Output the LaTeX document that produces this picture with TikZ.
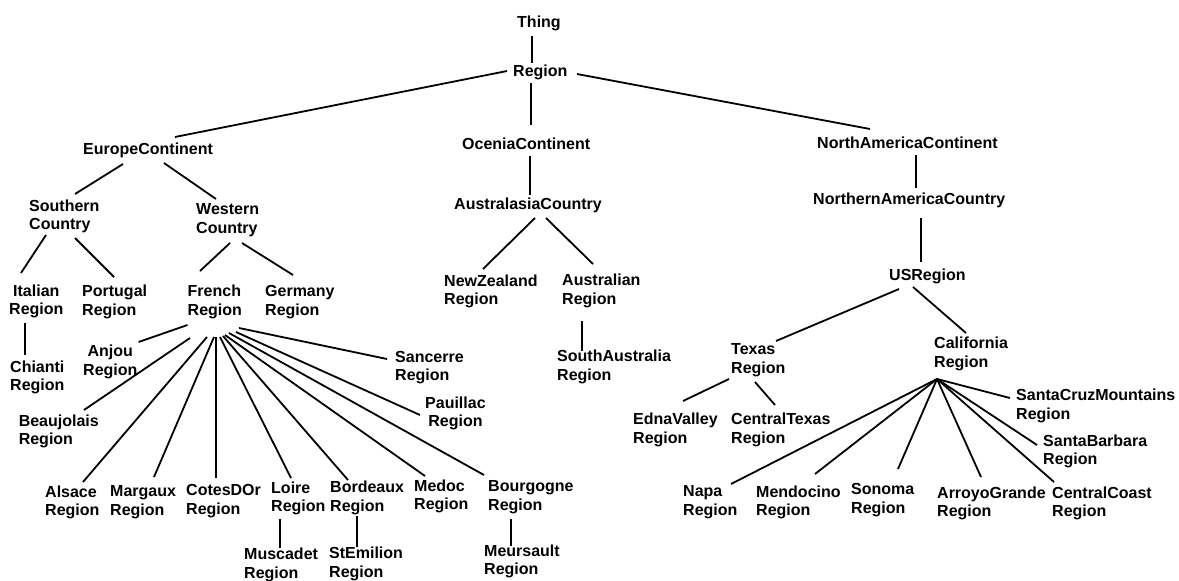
\documentclass[tikz,border=0pt]{standalone}
\usepackage{fontspec}
\setmainfont{Liberation Sans}
\begin{document}
\begin{tikzpicture}[x=1pt,y=-1pt,
  lbl/.style={font=\bfseries\fontsize{16}{18.7}\selectfont, inner sep=0pt, anchor=west, align=left},
  ctr/.style={lbl, align=center},
  edge/.style={line width=1.8pt, black}]
\useasboundingbox[fill=white] (0,0) rectangle (1179,581);
% nodes
\node[lbl] (thing) at (517,23) {Thing};
\node[lbl] (reg) at (513,72) {Region};
\node[lbl] (eur) at (83,150) {EuropeContinent};
\node[lbl] (oce) at (462,144) {OceniaContinent};
\node[lbl] (nac) at (817,143) {NorthAmericaContinent};
\node[lbl] (sou) at (29,216.5) {Southern\\Country};
\node[lbl] (wes) at (196,220) {Western\\Country};
\node[lbl] (aus) at (454,205) {AustralasiaCountry};
\node[lbl] (nam) at (813,200) {NorthernAmericaCountry};
\node[ctr] (ita) at (9,301.5) {Italian\\Region};
\node[lbl] (por) at (82,302) {Portugal\\Region};
\node[lbl] (fre) at (187.5,302) {French\\Region};
\node[lbl] (ger) at (265,302) {Germany\\Region};
\node[lbl] (nzr) at (444,291.5) {NewZealand\\Region};
\node[lbl] (aur) at (562,291) {Australian\\Region};
\node[lbl] (usr) at (889,276) {USRegion};
\node[ctr] (chi) at (10,377.5) {Chianti\\Region};
\node[ctr] (anj) at (83,362) {Anjou\\Region};
\node[lbl] (bea) at (18.6,431.5) {Beaujolais\\Region};
\node[lbl] (san) at (395,367.5) {Sancerre\\Region};
\node[ctr] (pau) at (425,413.5) {Pauillac\\Region};
\node[lbl] (sar) at (557,367) {SouthAustralia\\Region};
\node[lbl] (tex) at (731,360.5) {Texas\\Region};
\node[lbl] (cal) at (934,354) {California\\Region};
\node[lbl] (edn) at (633,430) {EdnaValley\\Region};
\node[lbl] (ctx) at (731,430) {CentralTexas\\Region};
\node[lbl] (scm) at (1016,406) {SantaCruzMountains\\Region};
\node[lbl] (sba) at (1043,451.5) {SantaBarbara\\Region};
\node[lbl] (als) at (45,502.5) {Alsace\\Region};
\node[lbl] (mar) at (110,502.5) {Margaux\\Region};
\node[lbl] (cdo) at (186,501) {CotesDOr\\Region};
\node[lbl] (loi) at (271,498.5) {Loire\\Region};
\node[lbl] (bor) at (330,498) {Bordeaux\\Region};
\node[lbl] (med) at (414,496.5) {Medoc\\Region};
\node[lbl] (bou) at (488,497) {Bourgogne\\Region};
\node[lbl] (mus) at (244,565) {Muscadet\\Region};
\node[lbl] (ste) at (329,564) {StEmilion\\Region};
\node[lbl] (meu) at (484,561.5) {Meursault\\Region};
\node[lbl] (nap) at (683,502) {Napa\\Region};
\node[lbl] (men) at (756,502.5) {Mendocino\\Region};
\node[lbl] (son) at (851,500) {Sonoma\\Region};
\node[lbl] (arr) at (937,503.5) {ArroyoGrande\\Region};
\node[lbl] (cco) at (1052,503.5) {CentralCoast\\Region};
% connectors
\draw[edge] ([shift={(15,13)}]thing.west) -- ([shift={(19,-9)}]reg.west);
\draw[edge] ([shift={(-6,-1)}]reg.west) -- ([shift={(92,-13)}]eur.west);
\draw[edge] ([shift={(18,11)}]reg.west) -- ([shift={(69,-19)}]oce.west);
\draw[edge] ([shift={(64,2)}]reg.west) -- ([shift={(53,-14)}]nac.west);
\draw[edge] ([shift={(40,14)}]eur.west) -- ([shift={(46,-22.5)}]sou.west);
\draw[edge] ([shift={(81,13)}]eur.west) -- ([shift={(20,-21)}]wes.west);
\draw[edge] ([shift={(68,12)}]oce.west) -- ([shift={(76,-10)}]aus.west);
\draw[edge] ([shift={(99,12)}]nac.west) -- ([shift={(103,-12)}]nam.west);
\draw[edge] ([shift={(17,18.5)}]sou.west) -- ([shift={(12,-28.5)}]ita.west);
\draw[edge] ([shift={(46,21.5)}]sou.west) -- ([shift={(32,-25)}]por.west);
\draw[edge] ([shift={(34,23)}]wes.west) -- ([shift={(12.5,-31)}]fre.west);
\draw[edge] ([shift={(46,23)}]wes.west) -- ([shift={(28,-27)}]ger.west);
\draw[edge] ([shift={(81,13)}]aus.west) -- ([shift={(39,-22.5)}]nzr.west);
\draw[edge] ([shift={(92,13)}]aus.west) -- ([shift={(31,-27)}]aur.west);
\draw[edge] ([shift={(108,18)}]nam.west) -- ([shift={(32,-14)}]usr.west);
\draw[edge] ([shift={(16,21.5)}]ita.west) -- ([shift={(15,-22.5)}]chi.west);
\draw[edge] ([shift={(20,30)}]aur.west) -- ([shift={(25,-16)}]sar.west);
\draw[edge] ([shift={(10,13)}]usr.west) -- ([shift={(45,-19.5)}]tex.west);
\draw[edge] ([shift={(24,11)}]usr.west) -- ([shift={(32,-21)}]cal.west);
\draw[edge] ([shift={(-2,18.5)}]tex.west) -- ([shift={(50,-29)}]edn.west);
\draw[edge] ([shift={(24,21.5)}]tex.west) -- ([shift={(44,-25)}]ctx.west);
% French fan
\draw[edge] ([shift={(0,23)}]fre.west) -- ([shift={(55.6,-20)}]anj.west);
\draw[edge] ([shift={(2.5,36)}]fre.west) -- ([shift={(65.4,-21.5)}]bea.west);
\draw[edge] ([shift={(19.5,35)}]fre.west) -- ([shift={(38,-20.5)}]als.west);
\draw[edge] ([shift={(26.5,35)}]fre.west) -- ([shift={(44,-25.5)}]mar.west);
\draw[edge] ([shift={(28.5,35)}]fre.west) -- ([shift={(30,-23)}]cdo.west);
\draw[edge] ([shift={(32.5,35)}]fre.west) -- ([shift={(20,-20.5)}]loi.west);
\draw[edge] ([shift={(35.5,34)}]fre.west) -- ([shift={(18,-18)}]bor.west);
\draw[edge] ([shift={(37.5,33)}]fre.west) -- ([shift={(11,-20.5)}]med.west);
\draw[edge] ([shift={(41.5,31)}]fre.west) -- ([shift={(-4,-22)}]bou.west);
\draw[edge] ([shift={(48.5,30)}]fre.west) -- ([shift={(-5,1.5)}]pau.west);
\draw[edge] ([shift={(51.5,26)}]fre.west) -- ([shift={(-8,-8.5)}]san.west);
\draw[edge] ([shift={(9,20.5)}]loi.west) -- ([shift={(36,-17)}]mus.west);
\draw[edge] ([shift={(27,18)}]bor.west) -- ([shift={(28,-17)}]ste.west);
\draw[edge] ([shift={(23,22)}]bou.west) -- ([shift={(27,-15.5)}]meu.west);
% California fan
\draw[edge] ([shift={(3,25)}]cal.west) -- ([shift={(48,-18)}]nap.west);
\draw[edge] ([shift={(3,25)}]cal.west) -- ([shift={(59,-28.5)}]men.west);
\draw[edge] ([shift={(3,25)}]cal.west) -- ([shift={(47,-31)}]son.west);
\draw[edge] ([shift={(3,25)}]cal.west) -- ([shift={(44,-26.5)}]arr.west);
\draw[edge] ([shift={(3,25)}]cal.west) -- ([shift={(2,-21.5)}]cco.west);
\draw[edge] ([shift={(3,25)}]cal.west) -- ([shift={(-6,-6.5)}]sba.west);
\draw[edge] ([shift={(3,25)}]cal.west) -- ([shift={(-6,-8)}]scm.west);
\end{tikzpicture}
\end{document}
